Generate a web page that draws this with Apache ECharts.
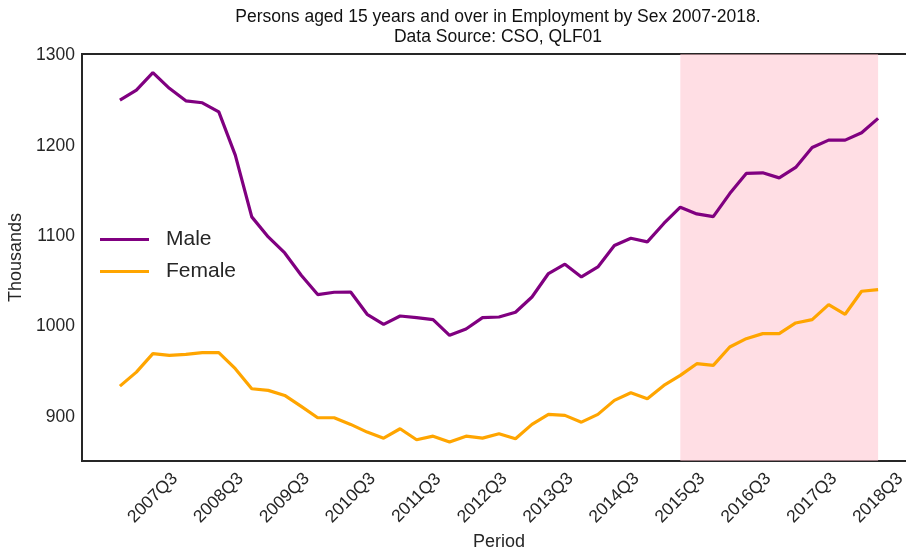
<!DOCTYPE html>
<html>
<head>
<meta charset="utf-8">
<script src="https://cdn.jsdelivr.net/npm/echarts@6/dist/echarts.min.js"></script>
<style>html,body{margin:0;padding:0;background:#fff}#c{width:906px;height:552px}</style>
</head>
<body>
<div id="c"></div>
<script>
var periods = ['2007Q1','2007Q2','2007Q3','2007Q4','2008Q1','2008Q2','2008Q3','2008Q4',
  '2009Q1','2009Q2','2009Q3','2009Q4','2010Q1','2010Q2','2010Q3','2010Q4',
  '2011Q1','2011Q2','2011Q3','2011Q4','2012Q1','2012Q2','2012Q3','2012Q4',
  '2013Q1','2013Q2','2013Q3','2013Q4','2014Q1','2014Q2','2014Q3','2014Q4',
  '2015Q1','2015Q2','2015Q3','2015Q4','2016Q1','2016Q2','2016Q3','2016Q4',
  '2017Q1','2017Q2','2017Q3','2017Q4','2018Q1','2018Q2','2018Q3'];
var male = [1250.5,1261.6,1280.8,1263.5,1249.7,1247.5,1237.5,1189.5,1121.2,1099,
  1081.3,1056.6,1035.2,1037.8,1038,1013.4,1002.3,1011.5,1009.7,1007.5,
  990.1,997.1,1009.7,1010.4,1015.6,1032.5,1058.5,1068.8,1054.7,1065.8,
  1089.5,1097.6,1093.5,1113.9,1131.9,1124.5,1121.5,1147,1169.3,1170,
  1164.4,1175.9,1198.1,1206.2,1206.2,1214.3,1230.2];
var female = [933.9,949.4,969.8,968,969,970.9,970.9,953.2,931,929.2,
  923.6,911.4,898.9,898.9,891.5,883,876.3,886.7,874.5,878.5,
  871.9,878.5,876.3,881.2,875.6,891.5,902.6,901.5,894,902.6,
  918.1,926.6,920,934.7,945.8,958.7,956.9,977.2,986.4,992,
  992,1003.8,1007.5,1024.1,1013.4,1038.9,1040.7];
var xTickLabels = ['2007Q3','2008Q3','2009Q3','2010Q3','2011Q3','2012Q3',
  '2013Q3','2014Q3','2015Q3','2016Q3','2017Q3','2018Q3'];
var yTickValues = [900,1000,1100,1200,1300];
var highlightStart = '2015Q3';
var highlightEnd = '2018Q3';

var font = "'Liberation Sans', Arial, Helvetica, sans-serif";
var textColor = '#262626';
var xTickIdx = xTickLabels.map(function(l){ return periods.indexOf(l); });
function pairs(arr){ return arr.map(function(v,i){ return [i, v]; }); }

var chart = echarts.init(document.getElementById('c'), null, {renderer:'canvas'});
chart.setOption({
  animation: false,
  backgroundColor: '#ffffff',
  title: {
    text: 'Persons aged 15 years and over in Employment by Sex 2007-2018.\nData Source: CSO, QLF01',
    left: 498, top: 7, padding: 0,
    textAlign: 'center',
    textStyle: {fontFamily: font, fontSize: 17.5, fontWeight: 'normal', color: '#111', lineHeight: 20, align: 'center'}
  },
  legend: {
    orient: 'vertical', left: 100, top: 229, padding: 0,
    itemWidth: 49, itemHeight: 20, itemGap: 11,
    icon: 'path://M0,8.5 L49,8.5 L49,11.5 L0,11.5 Z',
    textStyle: {fontFamily: font, fontSize: 21, color: textColor, padding: [0,0,0,12]},
    data: ['Male','Female']
  },
  grid: {
    left: 82, right: -10, top: 54, bottom: 91,
    containLabel: false, outerBoundsMode: 'none',
    show: true, borderColor: '#262626', borderWidth: 2, backgroundColor: 'transparent'
  },
  xAxis: {
    type: 'value', min: -2.3, max: 48.3,
    name: 'Period', nameLocation: 'middle', nameGap: 69,
    nameTextStyle: {fontFamily: font, fontSize: 18, color: textColor},
    axisLine: {show: false}, axisTick: {show: false}, splitLine: {show: false},
    axisLabel: {
      customValues: xTickIdx,
      rotate: 45, align: 'center', verticalAlign: 'middle', margin: 37,
      fontFamily: font, fontSize: 17.5, color: textColor,
      formatter: function(v){ return periods[Math.round(v)]; }
    }
  },
  yAxis: {
    type: 'value', min: 851, max: 1301.5,
    name: 'Thousands', nameLocation: 'middle', nameGap: 53,
    nameTextStyle: {fontFamily: font, fontSize: 18, color: textColor},
    axisLine: {show: false}, axisTick: {show: false}, splitLine: {show: false},
    axisLabel: {customValues: yTickValues, margin: 7, fontFamily: font, fontSize: 17.5, color: textColor,
      formatter: function(v){ return String(v); }}
  },
  series: [
    {
      name: 'Male', type: 'line', data: pairs(male), symbol: 'none',
      lineStyle: {color: '#800080', width: 3.2}, itemStyle: {color: '#800080'},
      markArea: {
        silent: true,
        itemStyle: {color: 'rgba(255,192,203,0.52)'},
        data: [[{xAxis: periods.indexOf(highlightStart)}, {xAxis: periods.indexOf(highlightEnd)}]]
      }
    },
    {
      name: 'Female', type: 'line', data: pairs(female), symbol: 'none',
      lineStyle: {color: '#FFA500', width: 3.2}, itemStyle: {color: '#FFA500'}
    }
  ]
});
</script>
</body>
</html>
